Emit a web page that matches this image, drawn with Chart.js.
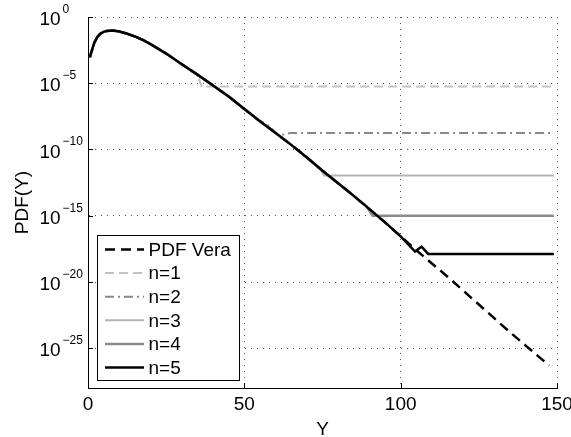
<!DOCTYPE html>
<html>
<head>
<meta charset="utf-8">
<script src="https://cdn.jsdelivr.net/npm/chart.js@4.4.1/dist/chart.umd.min.js"></script>
<style>
    html, body { margin: 0; padding: 0; background: #fff; }
    #wrap { width: 571px; height: 437px; }
</style>
</head>
<body>
<div id="wrap"><canvas id="pdfChart" width="571" height="437"></canvas></div>
<script>
// PDF Vera curve (x = Y, value = log10 of PDF)
const pdfX = [0.6, 1, 2, 3, 4, 5, 6, 8, 10, 12, 15, 18, 20, 25, 30, 35, 40, 45, 50, 55,
    60, 65, 70, 75, 80, 85, 90, 95, 100, 105, 110, 115, 120, 125, 130, 135, 140, 145, 147.5];
const pdfExp = [-3.05, -2.7, -1.95, -1.5, -1.25, -1.12, -1.05, -1.02, -1.1, -1.22, -1.47, -1.78, -2.05, -2.76, -3.57, -4.35, -5.17, -6.0, -6.95, -7.86,
    -8.75, -9.65, -10.6, -11.6, -12.55, -13.5, -14.5, -15.5, -16.55, -17.6, -18.6, -19.6, -20.65, -21.7, -22.75, -23.8, -24.8, -25.8, -26.3];

// each n follows the PDF up to its cutoff, then flattens out
const nCutoff = [35, 55, 70, 85, 100];
const n1TailX = [36.5, 38, 149];
const n1TailExp = [-5.35, -5.25, -5.25];
const n2TailX = [57, 61, 63, 64.5, 149];
const n2TailExp = [-8.05, -8.92, -8.85, -8.76, -8.76];
const n3TailX = [74, 75.5, 149];
const n3TailExp = [-11.35, -11.96, -11.96];
const n4TailX = [89, 91, 149];
const n4TailExp = [-14.25, -15.0, -15.0];
const n5TailX = [104.6, 106.7, 108.8, 149];
const n5TailExp = [-17.7, -17.33, -17.88, -17.88];

const xTicks = [0, 50, 100, 150];
const yTickExp = [0, -5, -10, -15, -20, -25];
const seriesLabels = ['PDF Vera', 'n=1', 'n=2', 'n=3', 'n=4', 'n=5'];

const FONT = '"Liberation Sans", Arial, Helvetica, sans-serif';

function toPoints(xs, exps) {
    return xs.map((x, i) => ({ x: x, y: Math.pow(10, exps[i]) }));
}

function withTail(cutoff, tailX, tailExp) {
    const head = [];
    pdfX.forEach((x, i) => { if (x <= cutoff) head.push({ x: x, y: Math.pow(10, pdfExp[i]) }); });
    return head.concat(toPoints(tailX, tailExp));
}

const datasets = [
    { label: seriesLabels[0], data: toPoints(pdfX, pdfExp), borderColor: '#000', borderWidth: 2.5, borderDash: [10, 6] },
    { label: seriesLabels[1], data: withTail(nCutoff[0], n1TailX, n1TailExp), borderColor: '#c2c2c2', borderWidth: 2, borderDash: [9, 5] },
    { label: seriesLabels[2], data: withTail(nCutoff[1], n2TailX, n2TailExp), borderColor: '#888888', borderWidth: 2, borderDash: [9, 4, 2, 4] },
    { label: seriesLabels[3], data: withTail(nCutoff[2], n3TailX, n3TailExp), borderColor: '#b5b5b5', borderWidth: 2 },
    { label: seriesLabels[4], data: withTail(nCutoff[3], n4TailX, n4TailExp), borderColor: '#8a8a8a', borderWidth: 2.5 },
    { label: seriesLabels[5], data: withTail(nCutoff[4], n5TailX, n5TailExp), borderColor: '#000', borderWidth: 2.5 }
];
// later series are drawn on top, like the original plot
datasets.forEach((d, i) => { d.pointRadius = 0; d.tension = 0; d.fill = false; d.order = datasets.length - i; });

// tick labels, inward tick marks, axis titles and the legend box
const decorPlugin = {
    id: 'decor',
    afterDraw(chart) {
        const ctx = chart.ctx;
        const area = chart.chartArea;
        const xs = chart.scales.x;
        const ys = chart.scales.y;
        ctx.save();
        ctx.strokeStyle = '#000';
        ctx.lineWidth = 1;
        ctx.fillStyle = '#000';

        // ticks pointing inwards
        ctx.beginPath();
        xTicks.forEach(v => {
            const px = Math.round(xs.getPixelForValue(v)) + 0.5;
            ctx.moveTo(px, area.bottom);
            ctx.lineTo(px, area.bottom - 5);
        });
        yTickExp.forEach(e => {
            const py = Math.round(ys.getPixelForValue(Math.pow(10, e))) + 0.5;
            ctx.moveTo(area.left, py);
            ctx.lineTo(area.left + 5, py);
        });
        ctx.stroke();

        // x tick labels
        ctx.font = '19px ' + FONT;
        ctx.textAlign = 'center';
        ctx.textBaseline = 'alphabetic';
        xTicks.forEach(v => {
            ctx.fillText(String(v), xs.getPixelForValue(v), area.bottom + 22);
        });

        // y tick labels 10^e
        yTickExp.forEach(e => {
            const py = ys.getPixelForValue(Math.pow(10, e));
            ctx.textAlign = 'left';
            ctx.font = '19px ' + FONT;
            ctx.fillText('10', 39.5, py + 8.2);
            ctx.font = '12px ' + FONT;
            ctx.fillText(e === 0 ? '0' : '\u2212' + Math.abs(e), 62.5, py - 4.2);
        });

        // axis titles
        ctx.font = '19px ' + FONT;
        ctx.textAlign = 'center';
        ctx.fillText('Y', (area.left + area.right) / 2, 435);
        ctx.save();
        ctx.translate(28, (area.top + area.bottom) / 2);
        ctx.rotate(-Math.PI / 2);
        ctx.fillText('PDF(Y)', 0, 0);
        ctx.restore();

        // legend
        const box = { left: 97.5, top: 235.5, right: 239.5, bottom: 380.5 };
        ctx.fillStyle = '#fff';
        ctx.fillRect(box.left, box.top, box.right - box.left, box.bottom - box.top);
        ctx.strokeStyle = '#000';
        ctx.lineWidth = 1;
        ctx.strokeRect(box.left, box.top, box.right - box.left, box.bottom - box.top);
        chart.data.datasets.forEach((d, i) => {
            const rowY = 249.5 + i * 23.6;
            ctx.save();
            ctx.strokeStyle = d.borderColor;
            ctx.lineWidth = d.borderWidth;
            ctx.setLineDash(d.borderDash || []);
            ctx.beginPath();
            ctx.moveTo(105, rowY);
            ctx.lineTo(144, rowY);
            ctx.stroke();
            ctx.restore();
            ctx.fillStyle = '#000';
            ctx.font = '19px ' + FONT;
            ctx.textAlign = 'left';
            ctx.textBaseline = 'middle';
            ctx.fillText(d.label, 148.5, rowY + 1);
        });
        ctx.restore();
    }
};

new Chart(document.getElementById('pdfChart'), {
    type: 'line',
    data: { datasets: datasets },
    plugins: [decorPlugin],
    options: {
        responsive: false,
        animation: false,
        layout: { padding: { left: 0, top: 17, right: 14, bottom: 0 } },
        plugins: { legend: { display: false }, tooltip: { enabled: false } },
        scales: {
            x: {
                type: 'linear',
                min: 0,
                max: 150,
                afterBuildTicks: s => { s.ticks = xTicks.map(v => ({ value: v })); },
                afterFit: s => { s.height = 49; },
                ticks: { display: false },
                grid: { color: '#555', lineWidth: 1, drawTicks: false },
                border: { display: true, color: '#000', width: 1, dash: [1, 5] }
            },
            y: {
                type: 'logarithmic',
                min: 1e-28,
                max: 1,
                afterBuildTicks: s => { s.ticks = yTickExp.map(e => ({ value: Math.pow(10, e) })); },
                afterFit: s => { s.width = 88; },
                ticks: { display: false },
                grid: { color: '#555', lineWidth: 1, drawTicks: false },
                border: { display: true, color: '#000', width: 1, dash: [1, 5] }
            }
        }
    }
});
</script>
</body>
</html>
